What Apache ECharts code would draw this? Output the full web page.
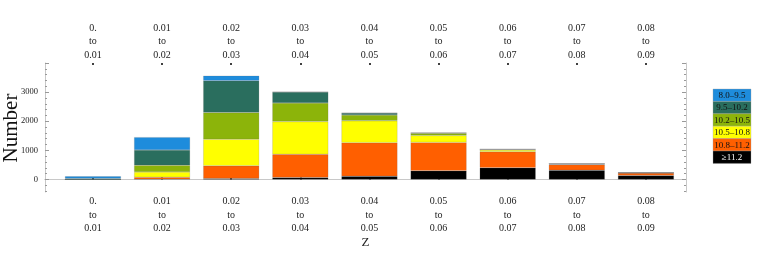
<!DOCTYPE html>
<html><head><meta charset="utf-8">
<script src="https://cdn.jsdelivr.net/npm/echarts@6/dist/echarts.min.js"></script>
<style>html,body{margin:0;padding:0;background:#fff}#c{width:761px;height:266px}</style>
</head><body><div id="c"></div>
<script>
const binLo = ['0.','0.01','0.02','0.03','0.04','0.05','0.06','0.07','0.08'];
const binHi = ['0.01','0.02','0.03','0.04','0.05','0.06','0.07','0.08','0.09'];
const seriesNames = ['≥11.2','10.8–11.2','10.5–10.8','10.2–10.5','9.5–10.2','8.0–9.5'];
const seriesColors = ['#000000','#ff5f00','#ffff00','#8cb40a','#2a6e5e','#1e8cdc'];
const vGe112  = [0, 5, 35, 69, 115, 297, 400, 320, 140];
const v108112 = [0, 69, 435, 794, 1150, 977, 552, 190, 80];
const v105108 = [0, 183, 911, 1125, 749, 240, 60, 10, 5];
const v102105 = [0, 231, 918, 635, 197, 70, 20, 20, 8];
const v95102  = [35, 528, 1093, 380, 69, 20, 5, 5, 3];
const v8095   = [75, 438, 172, 10, 10, 5, 0, 0, 0];
const yMajor = [0, 1000, 2000, 3000];
const yTitle = 'Number';
const allValues = [vGe112, v108112, v105108, v102105, v95102, v8095];

const categories = binLo.map((lo, i) => lo + '\nto\n' + binHi[i]);
const yMin = -430, yMax = 4000;
const minorVals = [];
for (let v = -400; v <= 4000; v += 200) if (v % 1000 !== 0) minorVals.push(v);
const majorTicks = [0, 1000, 2000, 3000, 4000];
const serif = 'Liberation Serif';

function frameX(pos, withName) {
  return {
    gridIndex: 0, type: 'value', position: pos, min: 0, max: 1,
    axisLine: {show: true, lineStyle: {color: '#c8c8c8', width: 1}},
    axisTick: {show: false}, axisLabel: {show: false}, splitLine: {show: false},
    name: withName ? 'Z' : '', nameLocation: 'middle', nameGap: 44,
    nameTextStyle: {fontFamily: serif, fontSize: 13, color: '#222'}
  };
}
function dataX(pos, margin) {
  return {
    gridIndex: 1, type: 'category', position: pos, data: categories, boundaryGap: true,
    axisLine: {show: false},
    axisTick: {show: true, alignWithLabel: true, interval: 0, inside: true, length: 2, lineStyle: {color: '#000', width: 1.5}},
    axisLabel: {show: true, interval: 0, fontFamily: serif, fontSize: 10, color: '#222', lineHeight: 13.5, margin: margin},
    splitLine: {show: false}
  };
}
function yAx(grid, pos, ticks, len, labels, line) {
  return {
    gridIndex: grid, type: 'value', position: pos, min: yMin, max: yMax,
    axisLine: {show: line, lineStyle: {color: '#c8c8c8', width: 1}},
    axisTick: {show: ticks !== null, customValues: ticks || [], inside: true, length: len, lineStyle: {color: '#999', width: 1}},
    axisLabel: labels ? {show: true, customValues: yMajor, formatter: v => String(v), fontFamily: serif, fontSize: 8.5, color: '#222', margin: 7} : {show: false},
    splitLine: {show: false}
  };
}

const series = seriesNames.map((n, k) => ({
  name: n, type: 'bar', stack: 'z', barCategoryGap: '19%',
  xAxisIndex: 2, yAxisIndex: 4,
  itemStyle: {color: seriesColors[k], borderColor: 'rgba(90,90,90,0.35)', borderWidth: 0.5},
  data: allValues[k]
}));

const graphics = [];
seriesNames.forEach((_, j) => {
  const k = seriesNames.length - 1 - j;
  graphics.push({type: 'rect', x: 713, y: 89 + j * 12.4,
    shape: {x: 0, y: 0, width: 38, height: 12.4},
    style: {fill: seriesColors[k], stroke: 'rgba(160,160,160,0.7)', lineWidth: 0.5}});
  graphics.push({type: 'text', x: 732, y: 89 + j * 12.4 + 6.6,
    style: {text: seriesNames[k], align: 'center', verticalAlign: 'middle', fontFamily: serif, fontSize: 9,
      fill: k === 0 ? '#fff' : '#111'}});
});
graphics.push({type: 'text', x: 11, y: 128, rotation: Math.PI / 2,
  style: {text: yTitle, align: 'center', verticalAlign: 'middle', fontFamily: serif, fontSize: 21, fill: '#111'}});

const chart = echarts.init(document.getElementById('c'), null, {renderer: 'canvas'});
chart.setOption({
  animation: false,
  grid: [
    {left: 45, top: 63, width: 641, height: 129},
    {left: 58.4, top: 63, width: 622.1, height: 129}
  ],
  xAxis: [frameX('bottom', true), frameX('top', false), dataX('bottom', 3), dataX('top', 1)],
  yAxis: [
    yAx(0, 'left', majorTicks, 4, true, true),
    yAx(0, 'left', minorVals, 2, false, false),
    yAx(0, 'right', majorTicks, 4, false, true),
    yAx(0, 'right', minorVals, 2, false, false),
    yAx(1, 'left', null, 0, false, false)
  ],
  series: series,
  graphic: graphics
});
</script></body></html>
